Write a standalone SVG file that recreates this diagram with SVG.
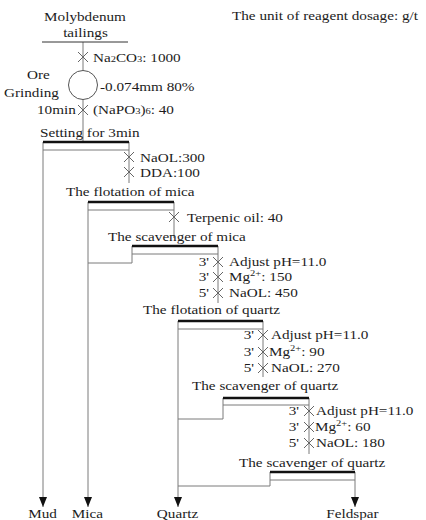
<svg xmlns="http://www.w3.org/2000/svg" xmlns:xlink="http://www.w3.org/1999/xlink" width="426" height="520" viewBox="0 0 426 520">
<style>
.t{font-family:"Liberation Serif","Times New Roman",serif;font-size:13px;fill:#1c1c1c;transform-box:fill-box;transform-origin:0% 50%;transform:scaleX(1.17);}
.c{text-anchor:middle;transform-origin:50% 50%;}
.e{text-anchor:end;transform-origin:100% 50%;}
.s{font-size:9px;}
.ln{stroke:#7a7a7a;stroke-width:1;fill:none;}
.dk{stroke:#333;stroke-width:1;fill:none;}
.thk{stroke:#111;stroke-width:2.5;fill:none;}
.mk{stroke:#666;stroke-width:1;fill:none;}
</style>
<defs>
<path id="mk" class="mk" d="M-5,-5L5,5M5,-5L-5,5"/>
<marker id="arr" markerUnits="userSpaceOnUse" markerWidth="10" markerHeight="10" refX="10" refY="4" orient="auto">
<path d="M0,0L10,4L0,8z" fill="#111"/>
</marker>
</defs>
<rect width="426" height="520" fill="#fff"/>

<g id="connectors">
<line class="ln" x1="83" y1="42" x2="83" y2="70.5"/>
<line class="ln" x1="83" y1="99.5" x2="83" y2="142"/>
<line class="ln" x1="43" y1="150" x2="43" y2="507" marker-end="url(#arr)"/>
<line class="ln" x1="129" y1="150" x2="129" y2="183"/>
<line class="ln" x1="88" y1="210" x2="88" y2="507" marker-end="url(#arr)"/>
<line class="ln" x1="174" y1="210" x2="174" y2="238"/>
<polyline class="ln" points="132,254 132,263 88,263"/>
<line class="ln" x1="218" y1="254" x2="218" y2="303"/>
<line class="ln" x1="178" y1="329" x2="178" y2="507" marker-end="url(#arr)"/>
<line class="ln" x1="263" y1="329" x2="263" y2="377"/>
<polyline class="ln" points="223,405 223,419 178,419"/>
<line class="ln" x1="309" y1="405" x2="309" y2="454"/>
<polyline class="ln" points="270,480 270,486 178,486"/>
<line class="ln" x1="355" y1="480" x2="355" y2="507" marker-end="url(#arr)"/>
<use xlink:href="#mk" x="83" y="57"/>
<use xlink:href="#mk" x="83" y="110"/>
<use xlink:href="#mk" x="129" y="157"/>
<use xlink:href="#mk" x="129" y="172"/>
<use xlink:href="#mk" x="174" y="217"/>
<use xlink:href="#mk" x="218" y="262"/>
<use xlink:href="#mk" x="218" y="277"/>
<use xlink:href="#mk" x="218" y="293"/>
<use xlink:href="#mk" x="263" y="335"/>
<use xlink:href="#mk" x="263" y="352"/>
<use xlink:href="#mk" x="263" y="368"/>
<use xlink:href="#mk" x="309" y="411"/>
<use xlink:href="#mk" x="309" y="427"/>
<use xlink:href="#mk" x="309" y="443"/>
</g>

<g id="note">
<text class="t" x="232" y="20">The unit of reagent dosage: g/t</text>
</g>

<g id="feed">
<text class="t c" x="85" y="21">Molybdenum</text>
<text class="t c" x="85.5" y="37">tailings</text>
<line class="dk" x1="42" y1="42" x2="128" y2="42"/>
<text class="t" x="93" y="62">Na<tspan class="s">2</tspan>CO<tspan class="s">3</tspan>: 1000</text>
</g>

<g id="grinding">
<circle cx="83" cy="85" r="14.5" fill="none" stroke="#555" stroke-width="1"/>
<text class="t" x="27" y="79">Ore</text>
<text class="t" x="4" y="97">Grinding</text>
<text class="t" x="100" y="91">-0.074mm 80%</text>
<text class="t" x="37" y="114">10min</text>
<text class="t" x="93" y="114">(NaPO<tspan class="s">3</tspan>)<tspan class="s">6</tspan>: 40</text>
</g>

<g id="settling">
<text class="t" x="40" y="137">Setting for 3min</text>
<polyline class="ln" points="43,142 43,150 129,150 129,142"/>
<line class="thk" x1="43" y1="142" x2="129" y2="142"/>
<text class="t" x="140" y="162">NaOL:300</text>
<text class="t" x="140" y="177">DDA:100</text>
</g>

<g id="mica-flotation">
<text class="t" x="66" y="196">The flotation of mica</text>
<polyline class="ln" points="88,202 88,210 174,210 174,202"/>
<line class="thk" x1="88" y1="202" x2="174" y2="202"/>
<text class="t" x="187" y="222">Terpenic oil: 40</text>
</g>

<g id="mica-scavenger">
<text class="t" x="108" y="241">The scavenger of mica</text>
<polyline class="ln" points="132,246 132,254 218,254 218,246"/>
<line class="thk" x1="132" y1="246" x2="218" y2="246"/>
<text class="t e" x="209" y="266">3'</text>
<text class="t e" x="209" y="281">3'</text>
<text class="t e" x="209" y="297">5'</text>
<text class="t" x="229" y="266">Adjust pH=11.0</text>
<text class="t" x="229" y="281">Mg<tspan class="s" dy="-5">2+</tspan><tspan dy="5">: 150</tspan></text>
<text class="t" x="229" y="297">NaOL: 450</text>
</g>

<g id="quartz-flotation">
<text class="t" x="143" y="314">The flotation of quartz</text>
<polyline class="ln" points="178,321 178,329 263,329 263,321"/>
<line class="thk" x1="178" y1="321" x2="263" y2="321"/>
<text class="t e" x="254" y="339">3'</text>
<text class="t e" x="254" y="356">3'</text>
<text class="t e" x="254" y="372">5'</text>
<text class="t" x="271" y="339">Adjust pH=11.0</text>
<text class="t" x="269" y="356">Mg<tspan class="s" dy="-5">2+</tspan><tspan dy="5">: 90</tspan></text>
<text class="t" x="271" y="372">NaOL: 270</text>
</g>

<g id="quartz-scavenger-1">
<text class="t" x="192" y="390">The scavenger of quartz</text>
<polyline class="ln" points="223,398 223,405 309,405 309,398"/>
<line class="thk" x1="223" y1="398" x2="309" y2="398"/>
<text class="t e" x="299" y="415">3'</text>
<text class="t e" x="299" y="431">3'</text>
<text class="t e" x="299" y="447">5'</text>
<text class="t" x="316" y="415">Adjust pH=11.0</text>
<text class="t" x="315" y="431">Mg<tspan class="s" dy="-5">2+</tspan><tspan dy="5">: 60</tspan></text>
<text class="t" x="316" y="447">NaOL: 180</text>
</g>

<g id="quartz-scavenger-2">
<text class="t" x="239" y="467">The scavenger of quartz</text>
<polyline class="ln" points="270,472 270,480 355,480 355,472"/>
<line class="thk" x1="270" y1="472" x2="355" y2="472"/>
</g>

<g id="products">
<text class="t c" x="42.5" y="518">Mud</text>
<text class="t c" x="87.5" y="518">Mica</text>
<text class="t c" x="177.5" y="518">Quartz</text>
<text class="t c" x="352.5" y="518">Feldspar</text>
</g>
</svg>
